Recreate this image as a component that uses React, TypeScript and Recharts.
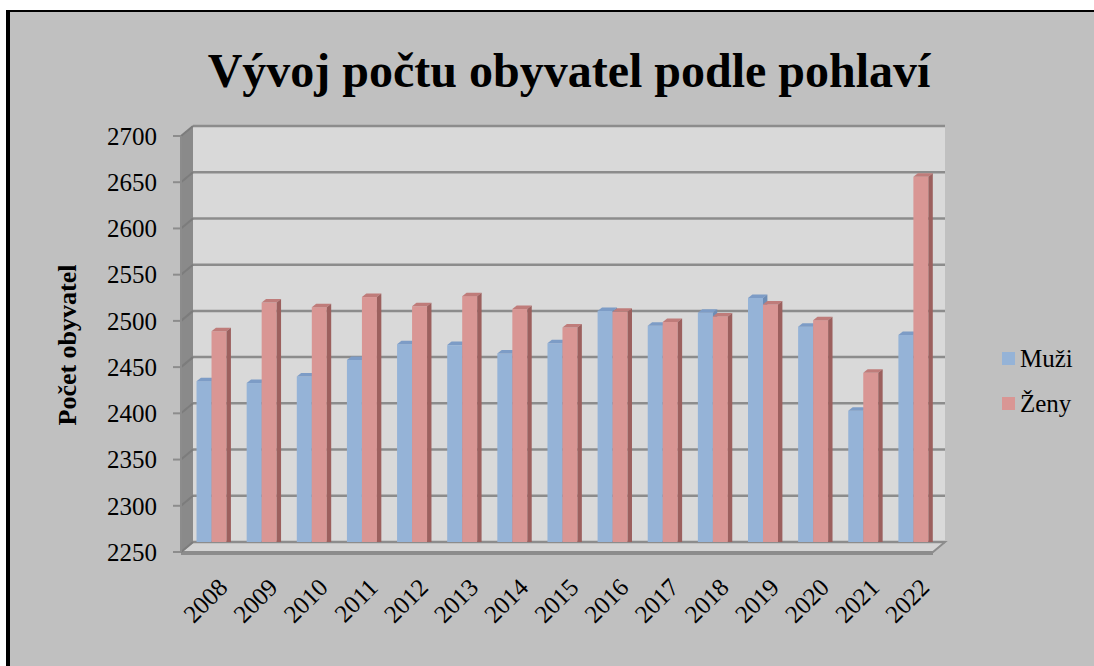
import { BarChart, Bar, XAxis, YAxis, ReferenceArea } from 'recharts'

const years = ['2008', '2009', '2010', '2011', '2012', '2013', '2014', '2015', '2016', '2017', '2018', '2019', '2020', '2021', '2022']
const muzi = [2431, 2429, 2436, 2454, 2471, 2470, 2461, 2472, 2507, 2491, 2505, 2521, 2490, 2399, 2481]
const zeny = [2485, 2516, 2511, 2522, 2512, 2523, 2509, 2489, 2506, 2495, 2501, 2514, 2497, 2440, 2652]
const yTicks = [2250, 2300, 2350, 2400, 2450, 2500, 2550, 2600, 2650, 2700]

const data = years.map((year, i) => ({ year, muzi: muzi[i], zeny: zeny[i] }))

const FONT = '"Liberation Serif", "Times New Roman", serif'
// 3D depth of the walls (front plane is shifted left/down)
const DX = 12
const DY = 10
// bars sit half way in the depth
const BX = -7
const BY = 6.5
// bar's own depth
const BD = 4.4
const BD2 = 3.5

const colors = {
  muzi: { front: '#95b3d7', top: '#7d9cc6', side: '#6e8db5' },
  zeny: { front: '#d99694', top: '#bf7c7a', side: '#9c605e' },
}

const textStyle = { fontFamily: FONT }

function bar3d(c: { front: string; top: string; side: string }) {
  return (props: any) => {
    const { x, y, width, height } = props
    if (width == null || height == null) return <g />
    const fx = x + BX
    const fy = y + BY
    return (
      <g>
        <rect x={fx} y={fy} width={width} height={height} fill={c.front} />
        <polygon
          points={`${fx},${fy} ${fx + BD},${fy - BD2} ${fx + width + BD},${fy - BD2} ${fx + width},${fy}`}
          fill={c.top}
        />
        <polygon
          points={`${fx + width},${fy} ${fx + width + BD},${fy - BD2} ${fx + width + BD},${fy + height - BD2} ${fx + width},${fy + height}`}
          fill={c.side}
        />
      </g>
    )
  }
}

function Walls(props: any) {
  const { x, y, width: w, height: h } = props
  const n = yTicks.length - 1
  const lines = yTicks.map((_, i) => y + (h * i) / n)
  return (
    <g>
      <rect x={x} y={y} width={w} height={h} fill="#d9d9d9" />
      <polygon points={`${x - DX},${y + DY} ${x},${y} ${x},${y + h} ${x - DX},${y + h + DY}`} fill="#8a8a8a" />
      <polygon
        points={`${x - DX},${y + h + DY} ${x},${y + h} ${x + w},${y + h} ${x + w - DX},${y + h + DY}`}
        fill="#d4d4d4"
        stroke="#8c8c8c"
        strokeWidth={2}
      />
      <polygon
        points={`${x - DX},${y + h + DY} ${x + w - DX},${y + h + DY} ${x + w - DX},${y + h + DY + 3} ${x - DX},${y + h + DY + 3}`}
        fill="#8c8c8c"
      />
      {lines.map((gy, i) => (
        <g key={i}>
          <line x1={x} y1={gy} x2={x + w} y2={gy} stroke="#8c8c8c" strokeWidth={2.5} />
          <line x1={x} y1={gy} x2={x - DX} y2={gy + DY} stroke="#7c7c7c" strokeWidth={2} />
          <line x1={x - DX - 8} y1={gy + DY} x2={x - DX} y2={gy + DY} stroke="#8c8c8c" strokeWidth={2} />
        </g>
      ))}
      <line x1={x - DX} y1={y + DY} x2={x - DX} y2={y + h + DY} stroke="#8c8c8c" strokeWidth={2} />
    </g>
  )
}

function YTick(props: any) {
  const { y, payload } = props
  return (
    <text x={157} y={y + DY} dy="0.35em" textAnchor="end" style={textStyle} fontSize={25} fill="#000">
      {payload.value}
    </text>
  )
}

function XTick(props: any) {
  const { x, payload } = props
  const ax = x + 11
  const ay = 589
  return (
    <text
      x={ax}
      y={ay}
      textAnchor="end"
      transform={`rotate(-45 ${ax} ${ay})`}
      style={textStyle}
      fontSize={25}
      fill="#000"
    >
      {payload.value}
    </text>
  )
}

function YLabel() {
  const cx = 67
  const cy = 345
  return (
    <text
      x={cx}
      y={cy}
      dy="0.35em"
      textAnchor="middle"
      transform={`rotate(-90 ${cx} ${cy})`}
      style={textStyle}
      fontWeight="bold"
      fontSize={26}
      fill="#000"
    >
      Počet obyvatel
    </text>
  )
}

function LegendBox() {
  const items = [
    { label: 'Muži', color: colors.muzi.front },
    { label: 'Ženy', color: colors.zeny.front },
  ]
  return (
    <div style={{ position: 'absolute', left: 1002, top: 336, fontFamily: FONT, fontSize: 25, color: '#000' }}>
      {items.map((it) => (
        <div key={it.label} style={{ display: 'flex', alignItems: 'center', height: 45 }}>
          <span style={{ display: 'inline-block', width: 13, height: 13, background: it.color, marginRight: 5 }} />
          <span>{it.label}</span>
        </div>
      ))}
    </div>
  )
}

export default function App() {
  return (
    <div style={{ position: 'absolute', left: 0, top: 0, width: 1094, height: 666, overflow: 'hidden', background: '#fff' }}>
      <div
        style={{
          position: 'absolute',
          left: 6,
          top: 10,
          width: 1100,
          height: 670,
          background: '#c0c0c0',
          borderLeft: '4px solid #000',
          borderTop: '2px solid #000',
          boxSizing: 'border-box',
        }}
      />
      <div
        style={{
          position: 'absolute',
          left: 0,
          top: 41,
          width: 1138,
          textAlign: 'center',
          fontFamily: FONT,
          fontWeight: 'bold',
          fontSize: 48,
          color: '#000',
          lineHeight: '60px',
        }}
      >
        Vývoj počtu obyvatel podle pohlaví
      </div>
      <div style={{ position: 'absolute', left: 0, top: 0 }}>
        <BarChart
          width={1094}
          height={666}
          data={data}
          margin={{ top: 126, right: 149, bottom: 24, left: 93 }}
          barGap={0}
          barCategoryGap="21%"
        >
          <XAxis dataKey="year" height={100} axisLine={false} tickLine={false} tick={<XTick />} interval={0} />
          <YAxis
            domain={[2250, 2700]}
            ticks={yTicks}
            width={100}
            axisLine={false}
            tickLine={false}
            tick={<YTick />}
            label={<YLabel />}
            allowDataOverflow
          />
          <ReferenceArea y1={2250} y2={2700} shape={Walls} ifOverflow="visible" />
          <Bar dataKey="muzi" name="Muži" fill={colors.muzi.front} shape={bar3d(colors.muzi)} isAnimationActive={false} />
          <Bar dataKey="zeny" name="Ženy" fill={colors.zeny.front} shape={bar3d(colors.zeny)} isAnimationActive={false} />
        </BarChart>
      </div>
      <LegendBox />
    </div>
  )
}
